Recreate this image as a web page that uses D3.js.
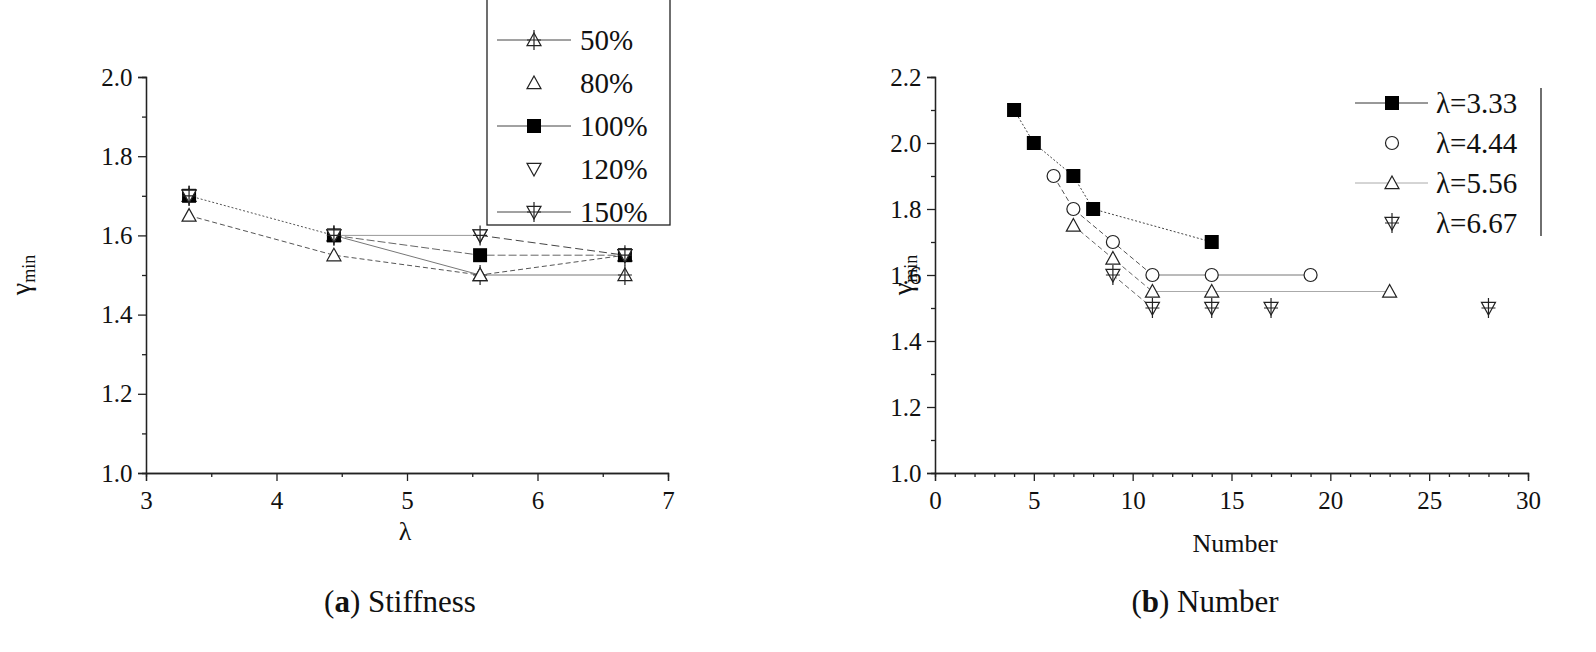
<!DOCTYPE html><html><head><meta charset="utf-8"><script src="https://cdn.jsdelivr.net/npm/d3@7"></script>
<style>body{margin:0;background:#fff}text{font-family:"Liberation Serif",serif !important;fill:#111}</style></head><body>
<svg id="s" width="1596" height="652" font-family="Liberation Serif"></svg>
<script>
const lamX=[3.33,4.44,5.56,6.67];
const leftNames=["50%","80%","100%","120%","150%"];
const left50=[1.70,1.60,1.50,1.50];
const left80=[1.65,1.55,1.50,1.55];
const left100=[1.70,1.60,1.55,1.55];
const left120=[1.70,1.60,1.60,1.55];
const left150=[1.70,1.60,1.60,1.55];
const rightNames=["λ=3.33","λ=4.44","λ=5.56","λ=6.67"];
const r333x=[4,5,7,8,14], r333y=[2.1,2.0,1.9,1.8,1.7];
const r444x=[6,7,9,11,14,19], r444y=[1.9,1.8,1.7,1.6,1.6,1.6];
const r556x=[7,9,11,14,23], r556y=[1.75,1.65,1.55,1.55,1.55];
const r667x=[9,11,14,17,28], r667y=[1.6,1.5,1.5,1.5,1.5];
const leftXTicks=[3,4,5,6,7], leftYTicks=[1.0,1.2,1.4,1.6,1.8,2.0];
const rightXTicks=[0,5,10,15,20,25,30], rightYTicks=[1.0,1.2,1.4,1.6,1.8,2.0,2.2];

const svg=d3.select("#s");
function sym(g,type,x,y){
  const s=7;
  if(type==="sq") g.append("rect").attr("x",x-s).attr("y",y-s).attr("width",2*s).attr("height",2*s).attr("fill","#000");
  else if(type==="ci") g.append("circle").attr("cx",x).attr("cy",y).attr("r",6.5).attr("fill","#fff").attr("stroke","#222").attr("stroke-width",1.2);
  else {
    const up=type==="tu"||type==="tux"; const d=up?1:-1;
    g.append("path").attr("d",`M${x},${y-d*s}L${x+s},${y+d*s*0.8}L${x-s},${y+d*s*0.8}Z`).attr("fill","#fff").attr("stroke","#222").attr("stroke-width",1.2);
    if(type.endsWith("x")) g.append("path").attr("d",`M${x},${y-s-3}V${y+s+3}M${x-s},${y}H${x+s}`).attr("stroke","#222").attr("stroke-width",1.2);
  }
}
function axes(x,y,xt,yt,xmin,ymin){
  const g=svg.append("g");
  g.append("g").attr("transform",`translate(0,${y.range()[0]})`).call(d3.axisBottom(x).tickValues(xt).tickSize(8).tickFormat(d3.format("d")))
   .call(a=>a.selectAll("text").attr("font-size",25).attr("dy","1.0em"));
  g.append("g").attr("transform",`translate(${x.range()[0]},0)`).call(d3.axisLeft(y).tickValues(yt).tickSize(8).tickFormat(d3.format(".1f")))
   .call(a=>a.selectAll("text").attr("font-size",25).attr("dx","-0.1em"));
  g.append("g").attr("transform",`translate(0,${y.range()[0]})`).call(d3.axisBottom(x).tickValues(xmin).tickSize(4).tickFormat(""));
  g.append("g").attr("transform",`translate(${x.range()[0]},0)`).call(d3.axisLeft(y).tickValues(ymin).tickSize(4).tickFormat(""));
  g.selectAll("g").attr("font-family","Liberation Serif");
  g.selectAll(".domain,line").attr("stroke","#222").attr("stroke-width",1.3);
}
const line=(x,y)=>d3.line().x(d=>x(d[0])).y(d=>y(d[1]));
// LEFT
const xL=d3.scaleLinear().domain([3,7]).range([146,668]);
const yL=d3.scaleLinear().domain([1,2]).range([473,77]);
axes(xL,yL,leftXTicks,leftYTicks,[3.5,4.5,5.5,6.5],[1.1,1.3,1.5,1.7,1.9]);
const leftSeries=[[left50,"tux"],[left80,"tu"],[left100,"sq"],[left120,"td"],[left150,"tdx"]];
const gl=svg.append("g");
gl.append("path").attr("d",line(xL,yL)(lamX.map((v,i)=>[v,left100[i]]).slice(0,2))).attr("fill","none").attr("stroke","#555").attr("stroke-dasharray","2,2");
gl.append("path").attr("d",line(xL,yL)(lamX.map((v,i)=>[v,left80[i]]))).attr("fill","none").attr("stroke","#555").attr("stroke-dasharray","5,3");
gl.append("path").attr("d",line(xL,yL)(lamX.map((v,i)=>[v,left50[i]]).slice(1))).attr("fill","none").attr("stroke","#777");
gl.append("path").attr("d",line(xL,yL)(lamX.map((v,i)=>[v,left100[i]]).slice(1))).attr("fill","none").attr("stroke","#666").attr("stroke-dasharray","8,3");
gl.append("path").attr("d",line(xL,yL)(lamX.map((v,i)=>[v,left150[i]]).slice(1,3))).attr("fill","none").attr("stroke","#999");
gl.append("path").attr("d",line(xL,yL)(lamX.map((v,i)=>[v,left120[i]]).slice(2))).attr("fill","none").attr("stroke","#444").attr("stroke-dasharray","8,4");
leftSeries.forEach(([vals,t])=>vals.forEach((v,i)=>sym(gl,t,xL(lamX[i]),yL(v))));
svg.append("text").attr("x",405).attr("y",540).attr("text-anchor","middle").attr("font-size",26).text("λ");
svg.append("text").attr("transform","translate(30,275) rotate(-90)").attr("text-anchor","middle").attr("font-size",28).html('γ<tspan font-size="18" dy="5">min</tspan>');
const lg=svg.append("g");
lg.append("rect").attr("x",487).attr("y",-2).attr("width",183).attr("height",227).attr("fill","#fff").attr("stroke","#222").attr("stroke-width",1.3);
leftNames.forEach((n,i)=>{const y=40+i*43;
  if([0,2,4].includes(i)) lg.append("line").attr("x1",497).attr("x2",571).attr("y1",y).attr("y2",y).attr("stroke","#444");
  sym(lg,leftSeries[i][1],534,y);
  lg.append("text").attr("x",580).attr("y",y+10).attr("font-size",29).text(n);});
// RIGHT
const xR=d3.scaleLinear().domain([0,30]).range([935,1528]);
const yR=d3.scaleLinear().domain([1,2.2]).range([473,77]);
axes(xR,yR,rightXTicks,rightYTicks,d3.range(1,30).filter(d=>d%5),[1.1,1.3,1.5,1.7,1.9,2.1]);
const gr=svg.append("g");
const pts=(xs,ys)=>xs.map((v,i)=>[v,ys[i]]);
gr.append("path").attr("d",line(xR,yR)(pts(r333x,r333y))).attr("fill","none").attr("stroke","#444").attr("stroke-dasharray","2,2");
gr.append("path").attr("d",line(xR,yR)(pts(r444x,r444y).slice(0,4))).attr("fill","none").attr("stroke","#555").attr("stroke-dasharray","5,3");
gr.append("path").attr("d",line(xR,yR)(pts(r444x,r444y).slice(3))).attr("fill","none").attr("stroke","#777");
gr.append("path").attr("d",line(xR,yR)(pts(r556x,r556y).slice(0,3))).attr("fill","none").attr("stroke","#666").attr("stroke-dasharray","5,3");
gr.append("path").attr("d",line(xR,yR)(pts(r556x,r556y).slice(2))).attr("fill","none").attr("stroke","#aaa");
gr.append("path").attr("d",line(xR,yR)(pts(r667x,r667y).slice(0,2))).attr("fill","none").attr("stroke","#666").attr("stroke-dasharray","5,3");
[[r333x,r333y,"sq"],[r444x,r444y,"ci"],[r556x,r556y,"tu"],[r667x,r667y,"tdx"]].forEach(([xs,ys,t])=>xs.forEach((v,i)=>sym(gr,t,xR(v),yR(ys[i]))));
svg.append("text").attr("x",1235).attr("y",552).attr("text-anchor","middle").attr("font-size",26).text("Number");
svg.append("text").attr("transform","translate(912,275) rotate(-90)").attr("text-anchor","middle").attr("font-size",28).html('γ<tspan font-size="18" dy="5">min</tspan>');
const rg=svg.append("g");
rg.append("line").attr("x1",1541).attr("x2",1541).attr("y1",88).attr("y2",236).attr("stroke","#222").attr("stroke-width",1.3);
const rt=["sq","ci","tu","tdx"];
rightNames.forEach((n,i)=>{const y=103+i*40;
  if(i===0||i===2) rg.append("line").attr("x1",1355).attr("x2",1428).attr("y1",y).attr("y2",y).attr("stroke",i?"#aaa":"#333");
  sym(rg,rt[i],1392,y);
  rg.append("text").attr("x",1436).attr("y",y+10).attr("font-size",29).text(n);});
svg.append("text").attr("x",400).attr("y",612).attr("text-anchor","middle").attr("font-size",31).html('(<tspan font-weight="bold">a</tspan>) Stiffness');
svg.append("text").attr("x",1205).attr("y",612).attr("text-anchor","middle").attr("font-size",31).html('(<tspan font-weight="bold">b</tspan>) Number');
</script></body></html>
